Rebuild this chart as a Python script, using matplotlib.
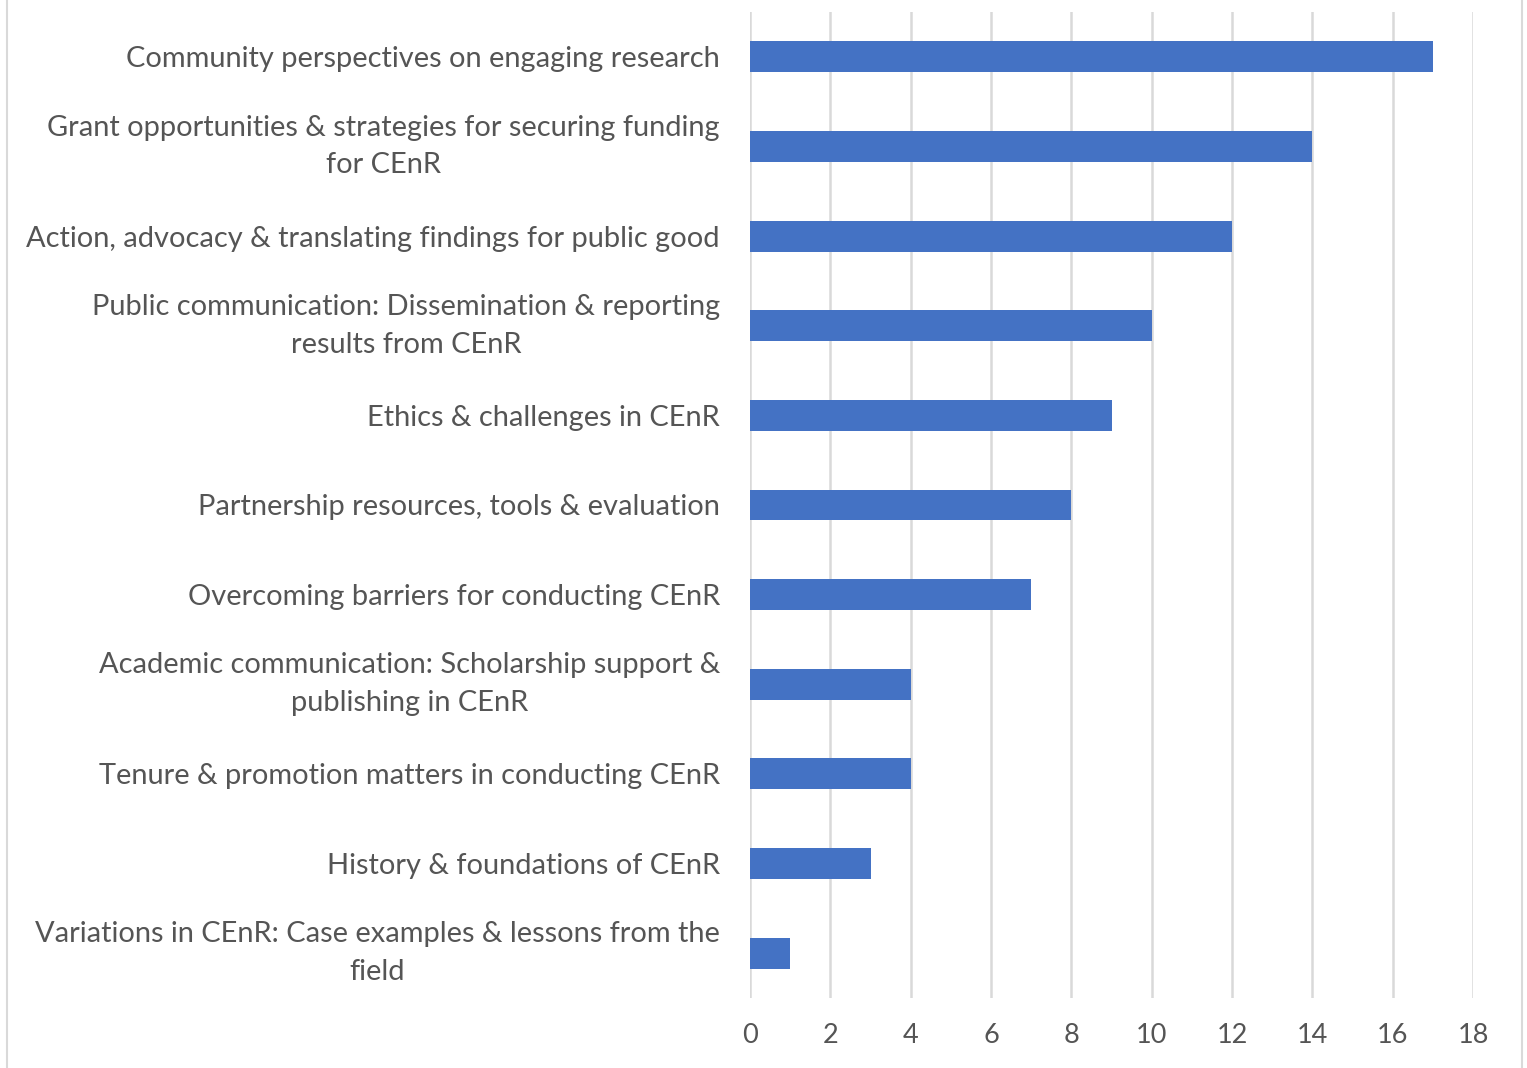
import matplotlib
matplotlib.use("Agg")
import matplotlib.pyplot as plt
from matplotlib.lines import Line2D

categories = [
    "Community perspectives on engaging research",
    "Grant opportunities & strategies for securing funding\nfor CEnR",
    "Action, advocacy & translating findings for public good",
    "Public communication: Dissemination & reporting\nresults from CEnR",
    "Ethics & challenges in CEnR",
    "Partnership resources, tools & evaluation",
    "Overcoming barriers for conducting CEnR",
    "Academic communication: Scholarship support &\npublishing in CEnR",
    "Tenure & promotion matters in conducting CEnR",
    "History & foundations of CEnR",
    "Variations in CEnR: Case examples & lessons from the\nfield",
]
values = [17, 14, 12, 10, 9, 8, 7, 4, 4, 3, 1]
xticks = [0, 2, 4, 6, 8, 10, 12, 14, 16, 18]

plt.rcParams['font.family'] = ['Lato', 'DejaVu Sans']

W, H = 1527, 1068
fig = plt.figure(figsize=(W/100, H/100), dpi=100)
ax = fig.add_axes([750/W, 1-998/H, (1473-750)/W, (998-12)/H])

n = len(categories)
ypos = list(range(n))
ax.barh(ypos, values, height=0.345, color='#4472C4', zorder=3)
ax.set_ylim(n-0.5, -0.5)
ax.set_xlim(0, 18)
ax.set_xticks(xticks)
ax.set_xticklabels([str(t) for t in xticks], fontsize=19.5, color='#555555')
ax.set_yticks(ypos)
labels = ax.set_yticklabels(categories, fontsize=20.9, color='#555555', multialignment='center', linespacing=1.55)
for lab in labels:
    if "\n" in lab.get_text():
        lab.set_verticalalignment('center')
ax.tick_params(axis='y', length=0, pad=21.6)
ax.tick_params(axis='x', length=0, pad=18)
ax.grid(axis='x', color='#d9d9d9', linewidth=1.8, zorder=0)
for s in ax.spines.values():
    s.set_visible(False)

fig.add_artist(Line2D([7/W, 7/W], [0, 1], color='#d9d9d9', linewidth=1.5))
fig.add_artist(Line2D([1522/W, 1522/W], [0, 1], color='#d9d9d9', linewidth=1.5))

fig.savefig("out.png", dpi=100, facecolor='white')
